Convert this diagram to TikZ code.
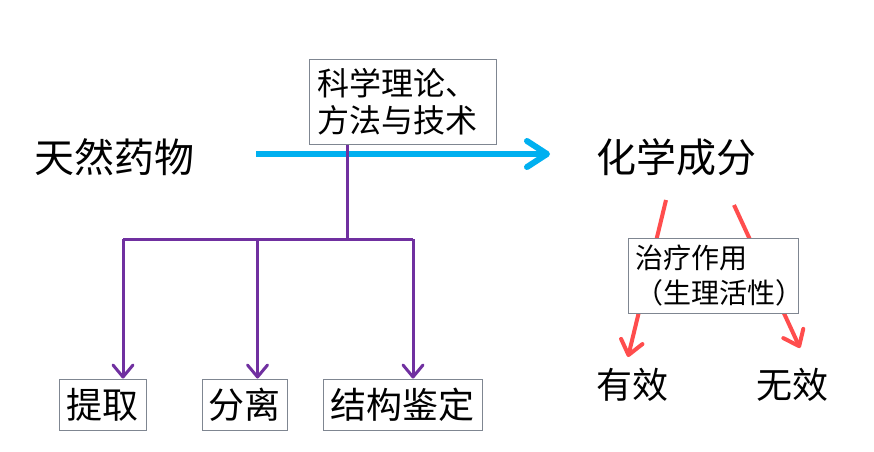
\documentclass[tikz,border=0pt]{standalone}
\usepackage{fontspec}
\setmainfont{Noto Sans CJK SC}
\usetikzlibrary{arrows.meta}
\definecolor{mblue}{RGB}{0,176,240}
\definecolor{mred}{RGB}{255,77,77}
\definecolor{mpurple}{RGB}{112,48,160}
\definecolor{mgray}{RGB}{127,134,145}
\tikzset{box/.style = {draw=mgray, fill=white, line width=1pt, inner sep=0pt},
         word/.style = {inner sep=0pt, font=\fontsize{40}{40}\selectfont},
         pline/.style = {mpurple, line width=3pt},
         parrow/.style = {pline, -{Straight Barb[length=12pt,width=20pt,round]}},
         rarrow/.style = {mred, line width=4pt, -{Straight Barb[length=14pt,width=22pt,round]}}}

\begin{document}
\begin{tikzpicture}[x=1pt, y=-1pt]
    \useasboundingbox [fill=white] (0, 0) rectangle (874, 451);

    \node [word] (drug) at (114, 157) {天然药物};
    \node [word] (comp) at (676, 157) {化学成分};

    \coordinate (bs) at (256, 154);
    \coordinate (be) at (550, 154);
    \draw [mblue, line width=6pt, -{Straight Barb[length=20pt,width=26pt,round]}] (bs) -- (be);

    \node [box, inner xsep=8pt, text width=171pt, minimum height=85pt, align=left,
           font=\fontsize{32}{37}\selectfont] (tech) at (402.5, 101.5) {科学理论、\\方法与技术};

    \node [box, minimum width=87pt, minimum height=51pt, font=\fontsize{36}{36}\selectfont]
          (ext) at (102.5, 404.5) {提取};
    \node [box, minimum width=85pt, minimum height=51pt, font=\fontsize{36}{36}\selectfont]
          (sep) at (244.5, 404.5) {分离};
    \node [box, minimum width=159pt, minimum height=51pt, font=\fontsize{36}{36}\selectfont]
          (ide) at (402.5, 404.5) {结构鉴定};

    % tree below the method box
    \coordinate (j) at (347, 239);
    \draw [pline] (tech.south -| j) -- (j);
    \draw [pline] ([xshift=20.5pt]ext.north |- j) -- ([xshift=10.5pt]ide.north |- j);
    \draw [parrow] ([xshift=20.5pt]ext.north |- j) -- ([xshift=20.5pt]ext.north);
    \draw [parrow] ([xshift=13pt]sep.north |- j) -- ([xshift=13pt]sep.north);
    \draw [parrow] ([xshift=10.5pt]ide.north |- j) -- ([xshift=10.5pt]ide.north);

    \node [word, font=\fontsize{36}{36}\selectfont] (eff) at (632.5, 385) {有效};
    \node [word, font=\fontsize{36}{36}\selectfont] (ineff) at (792.5, 385) {无效};

    \coordinate (r1) at (666, 200);
    \coordinate (r2) at (628, 357);
    \coordinate (r3) at (734, 205);
    \coordinate (r4) at (800, 348);
    \draw [rarrow] (r1) -- (r2);
    \draw [rarrow] (r3) -- (r4);

    \node [box, inner xsep=7pt, text width=156pt, minimum height=75pt, align=left,
           font=\fontsize{28}{35}\selectfont] (act) at (713, 275.5) {治疗作用\\（生理活性）};
\end{tikzpicture}
\end{document}
